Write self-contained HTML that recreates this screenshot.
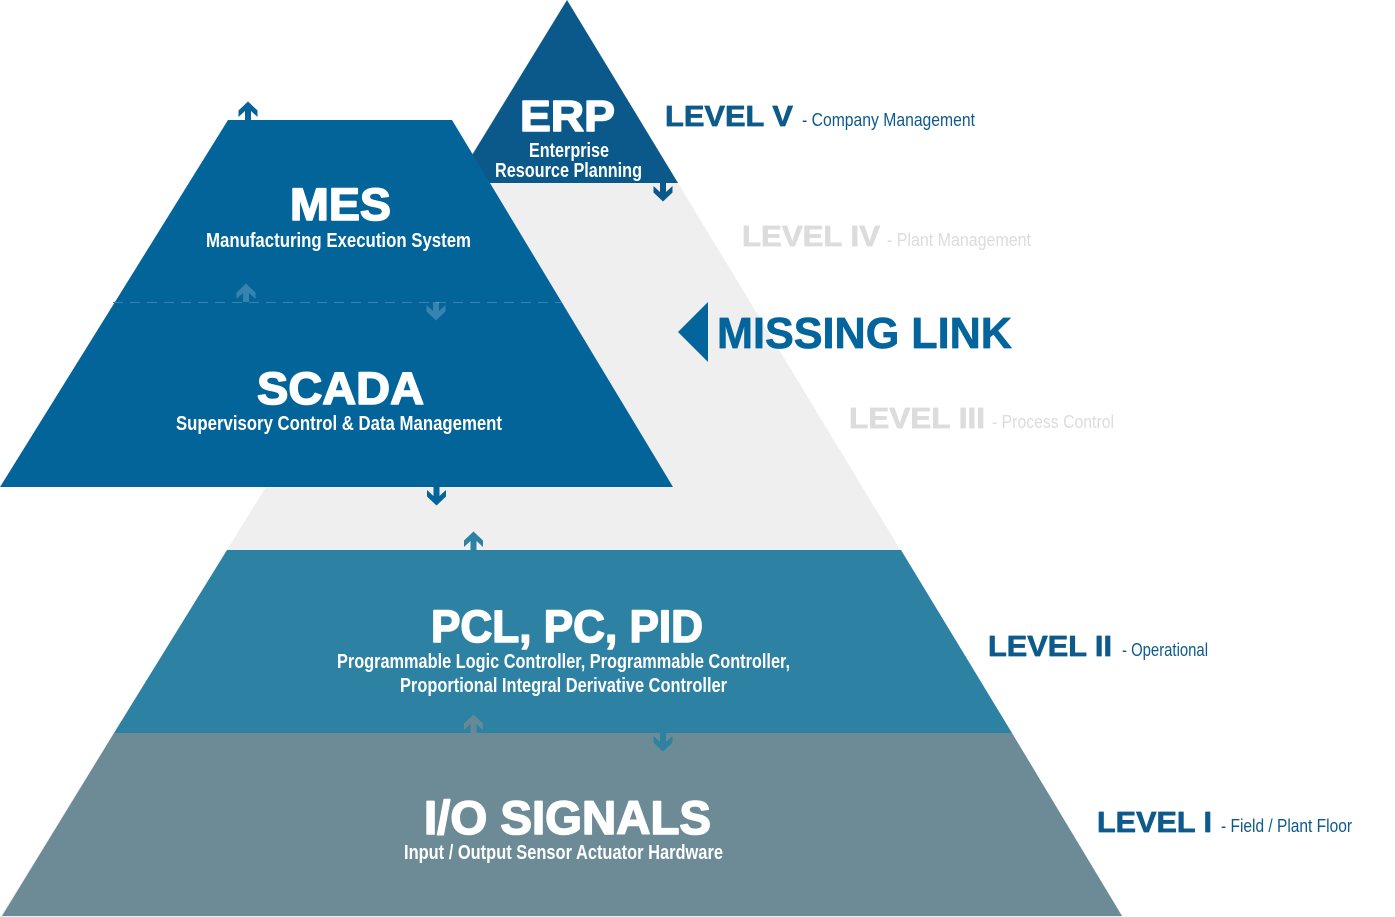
<!DOCTYPE html>
<html>
<head>
<meta charset="utf-8">
<style>
  html, body { margin:0; padding:0; background:#ffffff; }
  svg { display:block; }
  .h { font-family:"Liberation Sans", Arial, sans-serif; font-weight:bold; fill:#ffffff; stroke:#ffffff; stroke-width:1.6; stroke-linejoin:round; }
  .s { font-family:"Liberation Sans Narrow", "Liberation Sans", Arial, sans-serif; font-weight:bold; fill:#ffffff; }
  .lv { font-family:"Liberation Sans", Arial, sans-serif; font-weight:bold; stroke-width:0.7; stroke-linejoin:round; }
  .ld { font-family:"Liberation Sans Narrow", "Liberation Sans", Arial, sans-serif; font-weight:normal; }
</style>
</head>
<body>
<svg width="1395" height="917" viewBox="0 0 1395 917" xmlns="http://www.w3.org/2000/svg">
  <defs>
    <polygon id="dn" points="-3,0 3,0 3,9 9.5,3 9.5,9.5 0,18.5 -9.5,9.5 -9.5,3 -3,9"/>
    <polygon id="up" points="-3,0 3,0 3,-9 9.5,-3 9.5,-9.5 0,-18.5 -9.5,-9.5 -9.5,-3 -3,-9"/>
  </defs>

  <!-- big light gray triangle -->
  <polygon points="567,0 1123,917 0,917" fill="#efefef"/>

  <!-- ERP top triangle -->
  <polygon points="567,0 678,183 455,183" fill="#0b598a"/>

  <!-- PCL band -->
  <polygon points="227,550 901,550 1012,733 114,733" fill="#2d81a3"/>
  <!-- I/O band -->
  <polygon points="114,733 1012,733 1122,916 2,916" fill="#6d8a97"/>

  <!-- MES / SCADA trapezoid -->
  <polygon points="228,120 452,120 673,487 0,487" fill="#03649a"/>
  <line x1="113" y1="302.5" x2="562" y2="302.5" stroke="#3584b5" stroke-width="1" stroke-dasharray="10,7"/>

  <!-- arrows -->
  <use href="#up" x="248" y="120" fill="#03649a"/>
  <use href="#dn" x="663" y="183" fill="#0b598a"/>
  <use href="#up" x="246" y="302" fill="#ffffff" opacity="0.2"/>
  <use href="#dn" x="436" y="302" fill="#ffffff" opacity="0.2"/>
  <use href="#dn" x="436.5" y="487" fill="#03649a"/>
  <use href="#up" x="473.5" y="550" fill="#2d81a3"/>
  <use href="#up" x="473.5" y="733" fill="#6d8a97" opacity="0.9"/>
  <use href="#dn" x="663" y="733" fill="#2d81a3"/>

  <!-- ERP text -->
  <text class="h" x="520" y="131" font-size="44" textLength="95" lengthAdjust="spacingAndGlyphs">ERP</text>
  <text class="s" x="529" y="157" font-size="20" textLength="80" lengthAdjust="spacingAndGlyphs">Enterprise</text>
  <text class="s" x="495" y="177" font-size="20" textLength="147" lengthAdjust="spacingAndGlyphs">Resource Planning</text>

  <!-- MES -->
  <text class="h" x="290" y="220" font-size="45" textLength="101" lengthAdjust="spacingAndGlyphs">MES</text>
  <text class="s" x="206" y="247" font-size="20" textLength="265" lengthAdjust="spacingAndGlyphs">Manufacturing Execution System</text>

  <!-- SCADA -->
  <text class="h" x="257" y="404" font-size="45" textLength="167" lengthAdjust="spacingAndGlyphs">SCADA</text>
  <text class="s" x="176" y="430" font-size="20" textLength="326" lengthAdjust="spacingAndGlyphs">Supervisory Control &amp; Data Management</text>

  <!-- PCL -->
  <text class="h" x="431" y="642" font-size="45" textLength="272" lengthAdjust="spacingAndGlyphs">PCL, PC, PID</text>
  <text class="s" x="337" y="668" font-size="20" textLength="453" lengthAdjust="spacingAndGlyphs">Programmable Logic Controller, Programmable Controller,</text>
  <text class="s" x="400" y="692" font-size="20" textLength="327" lengthAdjust="spacingAndGlyphs">Proportional Integral Derivative Controller</text>

  <!-- I/O -->
  <text class="h" x="424" y="834" font-size="47" textLength="287" lengthAdjust="spacingAndGlyphs">I/O SIGNALS</text>
  <text class="s" x="404" y="859" font-size="20" textLength="319" lengthAdjust="spacingAndGlyphs">Input / Output Sensor Actuator Hardware</text>

  <!-- Level labels -->
  <text class="lv" x="665" y="126" font-size="29" fill="#0d5a8b" stroke="#0d5a8b" textLength="128" lengthAdjust="spacingAndGlyphs">LEVEL V</text>
  <text class="ld" x="802" y="126" font-size="18" fill="#0d5a8b" textLength="173" lengthAdjust="spacingAndGlyphs">- Company Management</text>

  <text class="lv" x="742" y="246" font-size="29" fill="#dcdcdc" stroke="#dcdcdc" textLength="138" lengthAdjust="spacingAndGlyphs">LEVEL IV</text>
  <text class="ld" x="887" y="246" font-size="18" fill="#dcdcdc" textLength="144" lengthAdjust="spacingAndGlyphs">- Plant Management</text>

  <polygon points="678,332 708,302 708,362" fill="#03659c"/>
  <text class="lv" x="717" y="348" font-size="44" fill="#03659c" stroke="#03659c" textLength="295" lengthAdjust="spacingAndGlyphs">MISSING LINK</text>

  <text class="lv" x="849" y="428" font-size="29" fill="#dcdcdc" stroke="#dcdcdc" textLength="136" lengthAdjust="spacingAndGlyphs">LEVEL III</text>
  <text class="ld" x="992" y="428" font-size="18" fill="#dcdcdc" textLength="122" lengthAdjust="spacingAndGlyphs">- Process Control</text>

  <text class="lv" x="988" y="656" font-size="29" fill="#0d5a8b" stroke="#0d5a8b" textLength="124" lengthAdjust="spacingAndGlyphs">LEVEL II</text>
  <text class="ld" x="1122" y="656" font-size="18" fill="#0d5a8b" textLength="86" lengthAdjust="spacingAndGlyphs">- Operational</text>

  <text class="lv" x="1097" y="832" font-size="29" fill="#0d5a8b" stroke="#0d5a8b" textLength="115" lengthAdjust="spacingAndGlyphs">LEVEL I</text>
  <text class="ld" x="1221" y="832" font-size="18" fill="#0d5a8b" textLength="131" lengthAdjust="spacingAndGlyphs">- Field / Plant Floor</text>
</svg>
</body>
</html>
